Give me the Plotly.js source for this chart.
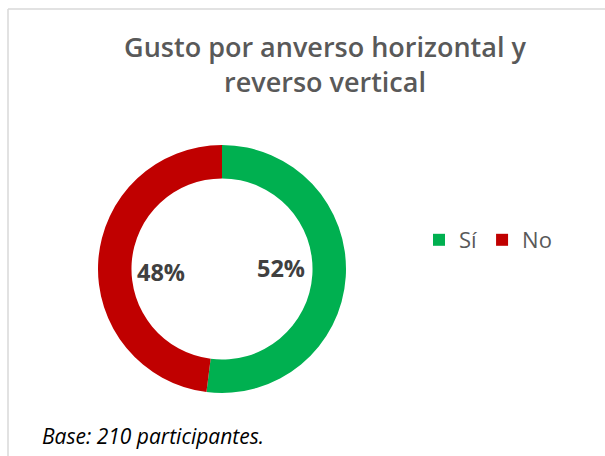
<!DOCTYPE html>
<html>
<head>
<meta charset="utf-8">
<script src="https://cdn.plot.ly/plotly-3.0.1.min.js"></script>
<style>html,body{margin:0;padding:0;background:#fff;}#chart{width:605px;height:456px;}</style>
</head>
<body>
<div id="chart"></div>
<script>
const categories = ["Sí", "No"];
const values = [52, 48];
const colors = ["#00B050", "#C00000"];
const titleText = "Gusto por anverso horizontal y<br>reverso vertical";
const footnote = "Base: 210 participantes.";

const total = values.reduce((a, b) => a + b, 0);
const pct = values.map(v => Math.round(v / total * 100) + "%");

const trace = {
  type: "pie",
  labels: categories,
  values: values,
  hole: 0.73,
  sort: false,
  direction: "clockwise",
  rotation: 0,
  marker: { colors: colors, line: { color: "#ffffff", width: 0 } },
  textinfo: "none",
  hoverinfo: "label+percent",
  domain: { x: [97 / 605, 347 / 605], y: [(456 - 393) / 456, (456 - 145) / 456] }
};

const FONT = "Open Sans, Noto Sans, sans-serif";

const layout = {
  width: 605,
  height: 456,
  margin: { l: 0, r: 0, t: 0, b: 0 },
  paper_bgcolor: "#ffffff",
  showlegend: true,
  title: {
    text: titleText,
    x: 325 / 605,
    xanchor: "center",
    y: 1 - 57 / 456,
    yanchor: "middle",
    font: { family: FONT, size: 27, color: "#595959", weight: 600 }
  },
  legend: {
    orientation: "h",
    x: 419 / 605,
    xanchor: "left",
    y: 1 - 240 / 456,
    yanchor: "middle",
    font: { family: FONT, size: 22, color: "#595959" },
    itemwidth: 30,
    traceorder: "normal"
  },
  annotations: [
    { text: "<b>" + pct[0] + "</b>", x: 281 / 605, y: 1 - 268 / 456, xref: "paper", yref: "paper",
      xanchor: "center", yanchor: "middle",
      showarrow: false, font: { family: FONT, size: 23.5, color: "#404040" } },
    { text: "<b>" + pct[1] + "</b>", x: 135 / 605, y: 1 - 272 / 456, xref: "paper", yref: "paper",
      xanchor: "left", yanchor: "middle",
      showarrow: false, font: { family: FONT, size: 23.5, color: "#404040" } },
    { text: "<i>" + footnote + "</i>", x: 40 / 605, y: 1 - 436 / 456, xref: "paper", yref: "paper",
      xanchor: "left", yanchor: "middle", showarrow: false, font: { family: FONT, size: 21, color: "#000000" } }
  ],
  shapes: [
    { type: "line", xref: "paper", yref: "paper", x0: 8 / 605, x1: 1.01, y0: 1 - 9 / 456, y1: 1 - 9 / 456,
      line: { color: "#D9D9D9", width: 1.5 } },
    { type: "line", xref: "paper", yref: "paper", x0: 8 / 605, x1: 8 / 605, y0: 1 - 9 / 456, y1: -0.01,
      line: { color: "#D9D9D9", width: 1.5 } }
  ]
};

Plotly.newPlot("chart", [trace], layout, { displayModeBar: false, staticPlot: true });
</script>
</body>
</html>
